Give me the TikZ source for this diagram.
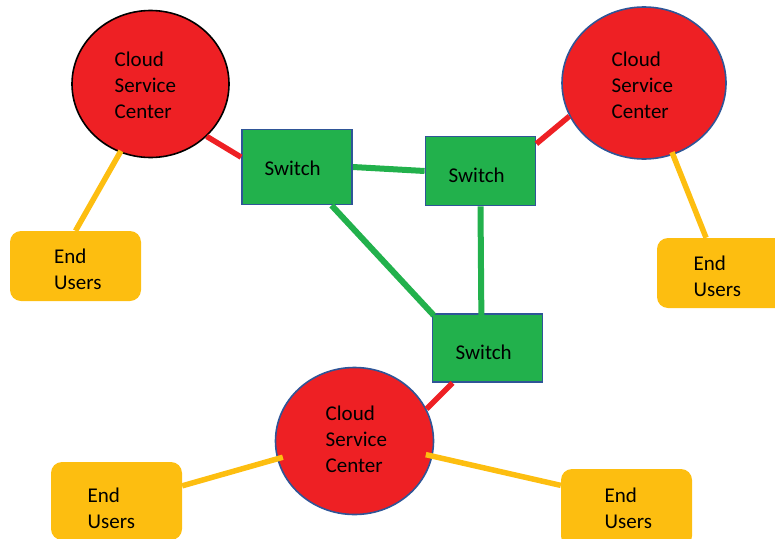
\documentclass[tikz,border=0pt]{standalone}
\usepackage{fontspec}
\setmainfont{Carlito}
\usetikzlibrary{shapes.geometric}
\definecolor{cred}{HTML}{EE2024}
\definecolor{cgreen}{HTML}{22B14C}
\definecolor{cyel}{HTML}{FDBE10}
\definecolor{cblue}{HTML}{2F5597}
\tikzset{x=1pt,y=-1pt,
 cloudnode/.style={ellipse,fill=cred,draw=cblue,line width=1.6pt,inner sep=0pt},
 swnode/.style={rectangle,fill=cgreen,draw=cblue,line width=1.8pt,inner sep=0pt},
 eunode/.style={rectangle,rounded corners=11pt,fill=cyel,inner sep=0pt},
 lab/.style={font=\fontsize{21}{26}\selectfont,align=left,anchor=west,inner sep=0pt},
 rl/.style={cred,line width=5.5pt},
 gl/.style={cgreen,line width=6pt},
 yl/.style={cyel,line width=5.5pt}}
\begin{document}
\begin{tikzpicture}
\useasboundingbox (0,0) rectangle (775,538);
\node[cloudnode,draw=black,minimum width=157pt,minimum height=147pt] (c1) at (150.5,84) {};
\node[cloudnode,minimum width=164pt,minimum height=152pt] (c2) at (644,83) {};
\node[cloudnode,minimum width=158pt,minimum height=147pt] (c3) at (354.5,441) {};
\node[swnode,minimum width=110pt,minimum height=75pt] (s1) at (297,167) {};
\node[swnode,minimum width=110pt,minimum height=69pt] (s2) at (480.5,171) {};
\node[swnode,minimum width=110pt,minimum height=68pt] (s3) at (487.5,348) {};
\node[eunode,minimum width=131pt,minimum height=70pt] (e1) at (75.5,266) {};
\node[eunode,minimum width=131pt,minimum height=70pt] (e2) at (722.5,273) {};
\node[eunode,minimum width=131pt,minimum height=78pt] (e3) at (116.5,501) {};
\node[eunode,minimum width=131pt,minimum height=78pt] (e4) at (626.5,508) {};
\draw[rl] (c1.-43.7)--(s1.170.5);
\draw[rl] (c2.-156.3)--(s2.26.4);
\draw[rl] (s3.-135.4)--(c3.24.8);
\draw[gl] (s1.0)--(s2.180);
\draw[gl,shorten >=-3pt] (s1.-48.2)--(s3.148.1);
\draw[gl,shorten >=-3pt] (s2.-90)--(s3.100.8);
\draw[yl,shorten <=-2pt] (c1.-114.8)--(e1.90);
\draw[yl,shorten <=-3pt] (c2.-68.3)--(e2.115.9);
\draw[yl,shorten <=-6pt] (c3.-167.4)--(e3.13.7);
\draw[yl,shorten <=-7pt] (c3.-11.7)--(e4.161.2);
\node[lab] (t1) at (114.5,85) {Cloud\\Service\\Center};
\node[lab] (t2) at (611.5,85) {Cloud\\Service\\Center};
\node[lab] (t3) at (325.5,439) {Cloud\\Service\\Center};
\node[lab] (w1) at (264.5,168) {Switch};
\node[lab] (w2) at (448.5,175) {Switch};
\node[lab] (w3) at (455.5,352) {Switch};
\node[lab] (u1) at (54,269) {End\\Users};
\node[lab] (u2) at (693.5,276) {End\\Users};
\node[lab] (u3) at (87.5,508) {End\\Users};
\node[lab] (u4) at (604.5,508) {End\\Users};
\end{tikzpicture}
\end{document}
